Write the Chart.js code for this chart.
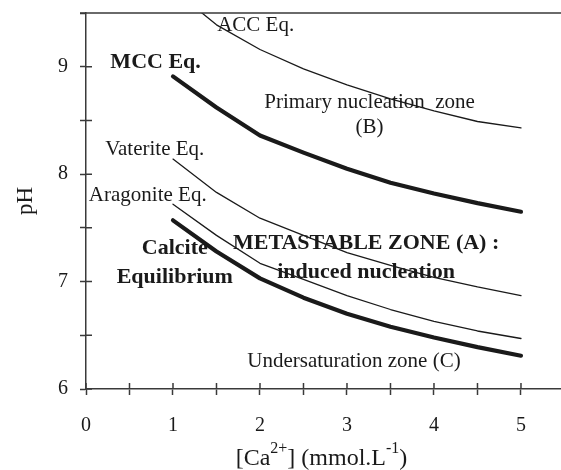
<!DOCTYPE html>
<html>
<head>
<meta charset="utf-8">
<script src="https://cdn.jsdelivr.net/npm/chart.js@4.4.1/dist/chart.umd.min.js"></script>
<style>
  html, body { margin: 0; padding: 0; background: #fff; }
  #wrap { width: 561px; height: 470px; }
</style>
</head>
<body>
<div id="wrap"><canvas id="phChart"></canvas></div>
<script>
// [Ca2+] in mmol/L
const caValues = [1, 1.5, 2, 2.5, 3, 3.5, 4, 4.5, 5];

// equilibrium pH curves
const accEq = [9.72, 9.39, 9.16, 8.98, 8.83, 8.70, 8.59, 8.49, 8.43];
const mccEq = [8.91, 8.62, 8.36, 8.20, 8.05, 7.92, 7.82, 7.73, 7.65];
const vateriteEq = [8.14, 7.83, 7.59, 7.43, 7.27, 7.15, 7.04, 6.95, 6.87];
const aragoniteEq = [7.72, 7.43, 7.17, 7.02, 6.87, 6.74, 6.63, 6.54, 6.47];
const calciteEq = [7.57, 7.28, 7.03, 6.85, 6.70, 6.58, 6.48, 6.39, 6.31];

const xMin = 0, xMax = 5.46;
const yMin = 6, yMax = 9.5;
const tickStep = 0.5;

const yTitle = 'pH';
const xTitleParts = [
  { text: '[Ca', sup: false },
  { text: '2+', sup: true },
  { text: '] (mmol.L', sup: false },
  { text: '-1', sup: true },
  { text: ')', sup: false }
];

// text labels, placed in data units
const notes = [
  { text: 'ACC Eq.', x: 1.95, y: 9.38, bold: false },
  { text: 'MCC Eq.', x: 0.80, y: 9.04, bold: true },
  { text: 'Primary nucleation  zone', x: 3.26, y: 8.67, bold: false },
  { text: '(B)', x: 3.26, y: 8.43, bold: false },
  { text: 'Vaterite Eq.', x: 0.79, y: 8.23, bold: false },
  { text: 'Aragonite Eq.', x: 0.71, y: 7.80, bold: false },
  { text: 'Calcite', x: 1.02, y: 7.31, bold: true },
  { text: 'Equilibrium', x: 1.02, y: 7.04, bold: true },
  { text: 'METASTABLE ZONE (A) :', x: 3.22, y: 7.36, bold: true },
  { text: 'induced nucleation', x: 3.22, y: 7.09, bold: true },
  { text: 'Undersaturation zone (C)', x: 3.08, y: 6.26, bold: false }
];

const ink = '#1a1a1a';
const axisColor = '#3a3a3a';
const serif = "'Liberation Serif', 'Times New Roman', serif";

const toPoints = arr => arr.map((v, i) => ({ x: caValues[i], y: v }));

function curve(label, values, thick) {
  return {
    label,
    data: toPoints(values),
    borderColor: ink,
    borderWidth: thick ? 4.2 : 1.3,
    borderCapStyle: 'round',
    borderJoinStyle: 'round',
    pointRadius: 0,
    tension: 0,
    fill: false
  };
}

// ticks every 0.5 from min up to the last half step below max
const halfSteps = scale => {
  const ticks = [];
  const last = Math.floor(scale.max / tickStep + 1e-6) * tickStep;
  for (let v = scale.min; v <= last + 1e-6; v += tickStep) {
    ticks.push({ value: Math.round(v * 10) / 10 });
  }
  scale.ticks = ticks;
};

const decorPlugin = {
  id: 'decor',
  afterDraw(chart) {
    const { ctx, chartArea, scales } = chart;
    const xs = scales.x, ys = scales.y;
    ctx.save();
    ctx.strokeStyle = axisColor;
    ctx.lineWidth = 1.5;
    // inner half of the tick marks
    ctx.beginPath();
    xs.ticks.forEach(t => {
      const px = xs.getPixelForValue(t.value);
      ctx.moveTo(px, chartArea.bottom);
      ctx.lineTo(px, chartArea.bottom - 6);
    });
    ys.ticks.forEach(t => {
      const py = ys.getPixelForValue(t.value);
      ctx.moveTo(chartArea.left, py);
      ctx.lineTo(chartArea.left + 6, py);
    });
    // top frame line
    ctx.moveTo(chartArea.left - 6, chartArea.top);
    ctx.lineTo(chartArea.right, chartArea.top);
    ctx.stroke();

    // annotations
    ctx.fillStyle = ink;
    ctx.textAlign = 'center';
    ctx.textBaseline = 'middle';
    notes.forEach(n => {
      ctx.font = (n.bold ? 'bold 22px ' : '21px ') + serif;
      ctx.fillText(n.text, xs.getPixelForValue(n.x), ys.getPixelForValue(n.y));
    });

    // x axis title with superscripts
    const mainFont = '24px ' + serif;
    const supFont = '16px ' + serif;
    let total = 0;
    xTitleParts.forEach(p => {
      ctx.font = p.sup ? supFont : mainFont;
      p.w = ctx.measureText(p.text).width;
      total += p.w;
    });
    let cx = (chartArea.left + chartArea.right) / 2 - total / 2 - 2;
    const base = chartArea.bottom + 76;
    ctx.textAlign = 'left';
    ctx.textBaseline = 'alphabetic';
    xTitleParts.forEach(p => {
      ctx.font = p.sup ? supFont : mainFont;
      ctx.fillText(p.text, cx, p.sup ? base - 12 : base);
      cx += p.w;
    });
    ctx.restore();
  }
};

new Chart(document.getElementById('phChart').getContext('2d'), {
  type: 'line',
  data: {
    datasets: [
      curve('ACC Eq.', accEq, false),
      curve('MCC Eq.', mccEq, true),
      curve('Vaterite Eq.', vateriteEq, false),
      curve('Aragonite Eq.', aragoniteEq, false),
      curve('Calcite Equilibrium', calciteEq, true)
    ]
  },
  options: {
    responsive: true,
    maintainAspectRatio: false,
    animation: false,
    layout: { padding: { top: 13, left: 0, right: 0, bottom: 0 } },
    plugins: {
      legend: { display: false },
      tooltip: { enabled: false }
    },
    scales: {
      x: {
        type: 'linear',
        min: xMin,
        max: xMax,
        afterBuildTicks: halfSteps,
        afterFit: s => { s.height = 81; s.paddingLeft = 0; s.paddingRight = 0; },
        ticks: {
          autoSkip: false,
          maxRotation: 0,
          padding: 19,
          color: ink,
          font: { family: serif, size: 20 },
          callback: v => Number.isInteger(v) ? String(v) : ''
        },
        grid: { drawOnChartArea: false, drawTicks: true, tickLength: 6, tickColor: axisColor, tickWidth: 1.5 },
        border: { color: axisColor, width: 1.5 }
      },
      y: {
        type: 'linear',
        min: yMin,
        max: yMax,
        afterBuildTicks: halfSteps,
        afterFit: s => { s.width = 86; s.paddingTop = 0; s.paddingBottom = 0; },
        ticks: {
          autoSkip: false,
          padding: 12,
          color: ink,
          font: { family: serif, size: 20 },
          callback: v => Number.isInteger(v) ? String(v) : ''
        },
        title: {
          display: true,
          text: yTitle,
          color: ink,
          font: { family: serif, size: 23 },
          padding: { top: 12, bottom: 0 }
        },
        grid: { drawOnChartArea: false, drawTicks: true, tickLength: 6, tickColor: axisColor, tickWidth: 1.5 },
        border: { color: axisColor, width: 1.5 }
      }
    }
  },
  plugins: [decorPlugin]
});
</script>
</body>
</html>
